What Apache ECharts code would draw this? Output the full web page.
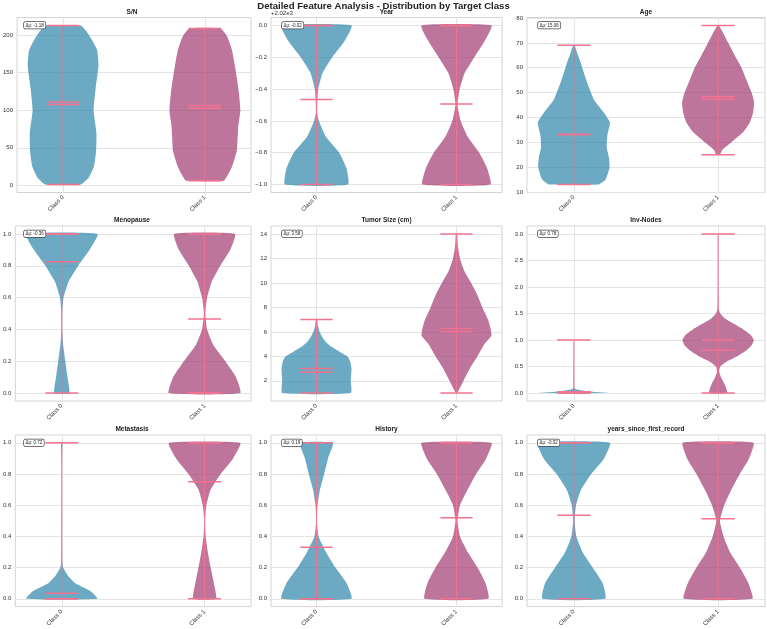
<!DOCTYPE html>
<html>
<head>
<meta charset="utf-8">
<script src="https://cdn.jsdelivr.net/npm/echarts@6/dist/echarts.min.js"></script>
<style>
  html, body { margin: 0; padding: 0; background: #fff; }
  #chart { width: 767px; height: 629px; }
</style>
</head>
<body>
<div id="chart"></div>
<script>
var classes = ['Class 0', 'Class 1'];
var features = ['S/N', 'Year', 'Age', 'Menopause', 'Tumor Size (cm)', 'Inv-Nodes',
  'Metastasis', 'History', 'years_since_first_record'];
var deltaLabels = ['Δμ: -1.18', 'Δμ: -0.02', 'Δμ: 15.06', 'Δμ: -0.36', 'Δμ: 3.58',
  'Δμ: 0.78', 'Δμ: 0.72', 'Δμ: 0.19', 'Δμ: -0.02'];

// y axis limits and tick labels per panel
var yRanges = [[-9.6, 223.6], [-1.05, 0.05], [9.8, 80.2], [-0.05, 1.05], [0.35, 14.65],
  [-0.15, 3.15], [-0.05, 1.05], [-0.05, 1.05], [-0.05, 1.05]];
var yTicks = [
  [0, 50, 100, 150, 200],
  [-1, -0.8, -0.6, -0.4, -0.2, 0],
  [10, 20, 30, 40, 50, 60, 70, 80],
  [0, 0.2, 0.4, 0.6, 0.8, 1],
  [2, 4, 6, 8, 10, 12, 14],
  [0, 0.5, 1, 1.5, 2, 2.5, 3],
  [0, 0.2, 0.4, 0.6, 0.8, 1],
  [0, 0.2, 0.4, 0.6, 0.8, 1],
  [0, 0.2, 0.4, 0.6, 0.8, 1]
];
var yDecimals = [0, 1, 0, 1, 0, 1, 1, 1, 1];

// violin outlines: [value, relative half width]
var snC0 = [[1, .5], [10, .72], [25, .87], [45, .93], [70, .94], [100, .86], [130, .92], [160, 1], [180, .96], [195, .8], [205, .66], [213, .5]];
var snC1 = [[6, .53], [15, .66], [24, .76], [46, .9], [78, .94], [100, 1], [127, .95], [158, .85], [181, .76], [199, .62], [209, .44]];
var yearC0 = [[-1, .9], [-.9, .86], [-.8, .65], [-.7, .27], [-.6, .07], [-.55, .02], [-.5, .02], [-.4, .05], [-.3, .17], [-.2, .45], [-.1, .8], [0, 1]];
var yearC1 = [[-1, .97], [-.9, .88], [-.8, .65], [-.7, .32], [-.6, .12], [-.5, .03], [-.4, .09], [-.3, .23], [-.2, .51], [-.1, .8], [0, 1]];
var ageC0 = [[13, .69], [15, .88], [20, .99], [24, .97], [28, .91], [33, .93], [38, 1], [42, .83], [47, .56], [52, .42], [57, .3], [62, .19], [66, .09], [69, .02]];
var ageC1 = [[25, .05], [27, .12], [30, .37], [34, .69], [38, .88], [42, .97], [46, 1], [50, .93], [55, .79], [60, .65], [65, .46], [70, .28], [74, .14], [77, .02]];
var menoC0 = [[0, .21], [.1, .16], [.2, .1], [.3, .04], [.4, .01], [.5, .01], [.6, .05], [.7, .19], [.8, .46], [.9, .78], [1, 1]];
var menoC1 = [[0, 1], [.1, .88], [.2, .58], [.3, .25], [.4, .07], [.5, .02], [.6, .07], [.7, .2], [.8, .44], [.9, .72], [1, .85]];
var tumorC0 = [[1, .98], [2, .98], [3, 1], [3.6, .96], [4, .88], [4.4, .65], [4.8, .42], [5.2, .26], [5.6, .16], [6, .09], [6.5, .04], [7, .02]];
var tumorC1 = [[1, .02], [2, .2], [3, .38], [4, .6], [5, .8], [5.7, 1], [6.3, .97], [7, .9], [8, .74], [9, .6], [10, .42], [11, .22], [12, .1], [13, .04], [14, .02]];
var invC0 = [[0, 1], [.02, .6], [.04, .3], [.06, .12], [.08, .04], [.1, .01], [1, 0]];
var invC1 = [[0, .25], [.1, .22], [.2, .16], [.3, .08], [.4, .03], [.5, .06], [.6, .25], [.7, .55], [.8, .78], [.9, .93], [1, .99], [1.1, .9], [1.2, .7], [1.3, .45], [1.4, .2], [1.5, .06], [1.6, .015], [2, .004], [3, 0]];
var metaC0 = [[0, 1], [.05, .8], [.1, .38], [.15, .17], [.2, .04], [.25, .01], [.5, .004], [.9, .004], [1, .02]];
var metaC1 = [[0, .32], [.1, .26], [.2, .17], [.3, .09], [.4, .03], [.5, .01], [.6, .05], [.7, .17], [.8, .45], [.9, .8], [1, 1]];
var histC0 = [[0, 1], [.1, .86], [.2, .54], [.3, .27], [.4, .06], [.5, .01], [.6, .03], [.7, .1], [.8, .22], [.9, .33], [1, .47]];
var histC1 = [[0, .91], [.1, .83], [.2, .6], [.3, .32], [.4, .1], [.5, .03], [.6, .1], [.7, .32], [.8, .56], [.9, .85], [1, 1]];
var yrsC0 = [[0, .87], [.1, .8], [.2, .52], [.3, .24], [.4, .07], [.5, .02], [.6, .06], [.7, .2], [.8, .48], [.9, .84], [1, 1]];
var yrsC1 = [[0, .95], [.1, .84], [.2, .6], [.3, .33], [.4, .15], [.5, .05], [.6, .17], [.7, .37], [.8, .6], [.9, .86], [1, .98]];

var profiles = [[snC0, snC1], [yearC0, yearC1], [ageC0, ageC1], [menoC0, menoC1], [tumorC0, tumorC1],
  [invC0, invC1], [metaC0, metaC1], [histC0, histC1], [yrsC0, yrsC1]];

// per class statistics [class 0, class 1]
var minVals = [[1, 6], [-1, -1], [13, 25], [0, 0], [1, 1], [0, 0], [0, 0], [0, 0], [0, 0]];
var maxVals = [[213, 209], [0, 0], [69, 77], [1, 1], [7, 14], [1, 3], [1, 1], [1, 1], [1, 1]];
var meanVals = [[107.6, 106.4], [-0.466, -0.494], [33.2, 48.3], [0.825, 0.465], [2.7, 6.28],
  [0.025, 0.805], [0.035, 0.75], [0.33, 0.52], [0.535, 0.513]];
var medianVals = [[111, 102.7], [0, 0], [33, 47.3], [1, 0], [3.0, 6.0], [0, 1], [0, 1], [0, 1], [1, 1]];

var colLeft = [13, 271, 527], colRight = [251, 502, 765];
var rowTop = [17.5, 226, 435], rowH = 175;
var HALF = 0.25, CAP = 0.115;
var bodyFill = ['rgba(46,134,171,0.7)', 'rgba(162,59,114,0.7)'];
var lineColor = '#f2738f';
var FONT = '"Liberation Sans", Arial, sans-serif';

function fmt(v, d) {
  var s = v.toFixed(d);
  return s.charAt(0) === '-' ? '\u2212' + s.slice(1) : s;
}

function makeRender(pi) {
  return function (params, api) {
    var pos = api.value(0), cls = api.value(1);
    var prof = profiles[pi][cls];
    var right = prof.map(function (p) { return api.coord([pos + p[1] * HALF, p[0]]); });
    var left = prof.slice().reverse().map(function (p) { return api.coord([pos - p[1] * HALF, p[0]]); });
    var children = [{
      type: 'polygon',
      shape: { points: right.concat(left), smooth: 0.15 },
      style: { fill: bodyFill[cls] }
    }];
    var lo = minVals[pi][cls], hi = maxVals[pi][cls];
    var a = api.coord([pos, lo]), b = api.coord([pos, hi]);
    children.push({ type: 'line', shape: { x1: a[0], y1: a[1], x2: b[0], y2: b[1] },
      style: { stroke: lineColor, lineWidth: 1 } });
    [lo, hi, meanVals[pi][cls], medianVals[pi][cls]].forEach(function (v) {
      var l = api.coord([pos - CAP, v]), r = api.coord([pos + CAP, v]);
      children.push({ type: 'line', shape: { x1: l[0], y1: l[1], x2: r[0], y2: r[1] },
        style: { stroke: lineColor, lineWidth: 1.5 } });
    });
    return { type: 'group', children: children };
  };
}

var grids = [], xAxes = [], yAxes = [], series = [], graphics = [];
features.forEach(function (name, i) {
  var r = Math.floor(i / 3), c = i % 3;
  var left = colLeft[c], top = rowTop[r], width = colRight[c] - colLeft[c];
  grids.push({ left: left, top: top, width: width, height: rowH, show: true,
    borderColor: '#d4d4d4', borderWidth: 1, backgroundColor: '#fff' });
  xAxes.push({
    gridIndex: i, type: 'value', min: 0.675, max: 2.325,
    axisLine: { show: false },
    axisTick: { show: false, customValues: [1, 2] },
    splitLine: { show: true, lineStyle: { color: '#e4e4e4', width: 1 } },
    axisLabel: { customValues: [1, 2], rotate: 45, fontSize: 6, color: '#333', margin: 4,
      fontFamily: FONT, formatter: function (v) { return classes[Math.round(v) - 1]; } }
  });
  yAxes.push({
    gridIndex: i, type: 'value', min: yRanges[i][0], max: yRanges[i][1],
    axisLine: { show: false },
    axisTick: { show: false, customValues: yTicks[i] },
    splitLine: { show: true, lineStyle: { color: '#e4e4e4', width: 1 } },
    axisLabel: { customValues: yTicks[i], fontSize: 6, color: '#333', margin: 4, fontFamily: FONT,
      formatter: function (v) { return fmt(v, yDecimals[i]); } }
  });
  series.push({
    type: 'custom', xAxisIndex: i, yAxisIndex: i, clip: false,
    data: [[1, 0], [2, 1]],
    renderItem: makeRender(i)
  });
  graphics.push({
    type: 'text', x: left + width / 2, y: top - 5.5,
    style: { text: name, font: 'bold 6.5px ' + FONT, fill: '#222', align: 'center', verticalAlign: 'middle' }
  });
  graphics.push({
    type: 'text', x: left + 11, y: top + 4.5, z: 10,
    style: { text: deltaLabels[i], font: '4.5px ' + FONT, fill: '#222', align: 'left', verticalAlign: 'top',
      backgroundColor: '#fff', borderColor: '#444', borderWidth: 0.7, borderRadius: 1.5, padding: [0.8, 1.5] }
  });
});

graphics.push({
  type: 'text', x: 383.5, y: 6,
  style: { text: 'Detailed Feature Analysis - Distribution by Target Class', font: 'bold 9.6px ' + FONT,
    fill: '#222', align: 'center', verticalAlign: 'middle' }
});
graphics.push({
  type: 'text', x: 271, y: 13.5,
  style: { text: '+2.02e3', font: '6px ' + FONT, fill: '#333', align: 'left', verticalAlign: 'middle' }
});

var chart = echarts.init(document.getElementById('chart'), null, { renderer: 'canvas' });
chart.setOption({
  backgroundColor: '#fff',
  animation: false,
  grid: grids,
  xAxis: xAxes,
  yAxis: yAxes,
  series: series,
  graphic: graphics
});
</script>
</body>
</html>
